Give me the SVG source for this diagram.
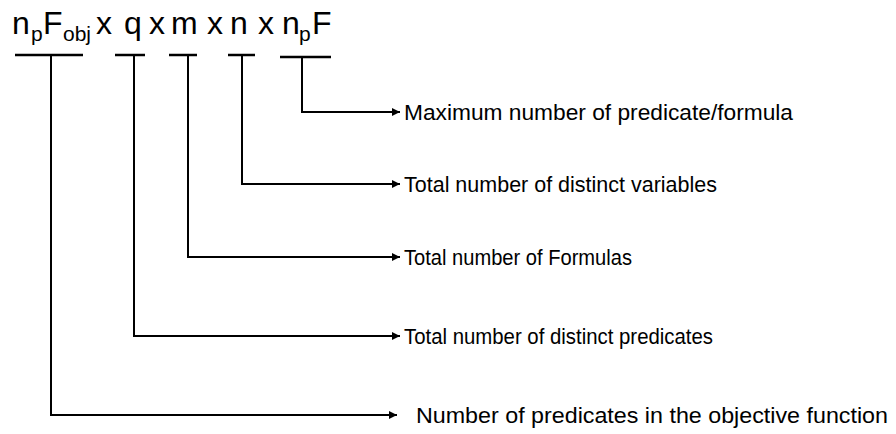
<svg xmlns="http://www.w3.org/2000/svg" width="896" height="434" viewBox="0 0 896 434">
<style>
.f{font-family:"Liberation Sans Narrow","Liberation Sans",Arial,sans-serif;fill:#000}
.main{font-size:32px}
.sub{font-size:21px}
.lbl{font-size:22px}
.ln{stroke:#000;stroke-width:2;fill:none}
.bar{stroke:#000;stroke-width:2.5;fill:none}
</style>
<defs>
<marker id="ah" viewBox="0 0 10 10" refX="10" refY="5" markerWidth="10" markerHeight="8" markerUnits="userSpaceOnUse" orient="auto">
<path d="M0,0 L10,5 L0,10 Z" fill="#000"/>
</marker>
</defs>
<rect width="896" height="434" fill="#fff"/>
<g id="formula">
<text class="f main" y="34"><tspan x="12">n</tspan><tspan class="sub" x="31" dy="7">p</tspan><tspan x="43" dy="-7">F</tspan><tspan class="sub" x="63" dy="7">obj</tspan><tspan x="96" dy="-7">x</tspan><tspan x="124">q</tspan><tspan x="149">x</tspan><tspan x="171">m</tspan><tspan x="207">x</tspan><tspan x="230">n</tspan><tspan x="258">x</tspan><tspan x="282">n</tspan><tspan class="sub" x="299" dy="7">p</tspan><tspan x="312" dy="-7">F</tspan></text>
</g>
<g id="bars">
<line class="bar" x1="15" y1="55" x2="83" y2="55"/>
<line class="bar" x1="115" y1="55" x2="145" y2="55"/>
<line class="bar" x1="169" y1="55" x2="197" y2="55"/>
<line class="bar" x1="228" y1="55" x2="255" y2="55"/>
<line class="bar" x1="280" y1="57" x2="331" y2="57"/>
</g>
<g id="connectors">
<path class="ln" d="M302,57 V112 H400" marker-end="url(#ah)"/>
<path class="ln" d="M242,55 V184 H400" marker-end="url(#ah)"/>
<path class="ln" d="M188,55 V257 H400" marker-end="url(#ah)"/>
<path class="ln" d="M134,55 V336 H400" marker-end="url(#ah)"/>
<path class="ln" d="M51,55 V415 H397" marker-end="url(#ah)"/>
</g>
<g id="label-max"><text class="f lbl" x="404" y="120" textLength="389" lengthAdjust="spacingAndGlyphs">Maximum number of predicate/formula</text></g>
<g id="label-vars"><text class="f lbl" x="404" y="192" textLength="313" lengthAdjust="spacingAndGlyphs">Total number of distinct variables</text></g>
<g id="label-formulas"><text class="f lbl" x="404" y="265" textLength="228" lengthAdjust="spacingAndGlyphs">Total number of Formulas</text></g>
<g id="label-preds"><text class="f lbl" x="404" y="344" textLength="309" lengthAdjust="spacingAndGlyphs">Total number of distinct predicates</text></g>
<g id="label-obj"><text class="f lbl" x="416" y="423" textLength="472" lengthAdjust="spacingAndGlyphs">Number of predicates in the objective function</text></g>
</svg>
